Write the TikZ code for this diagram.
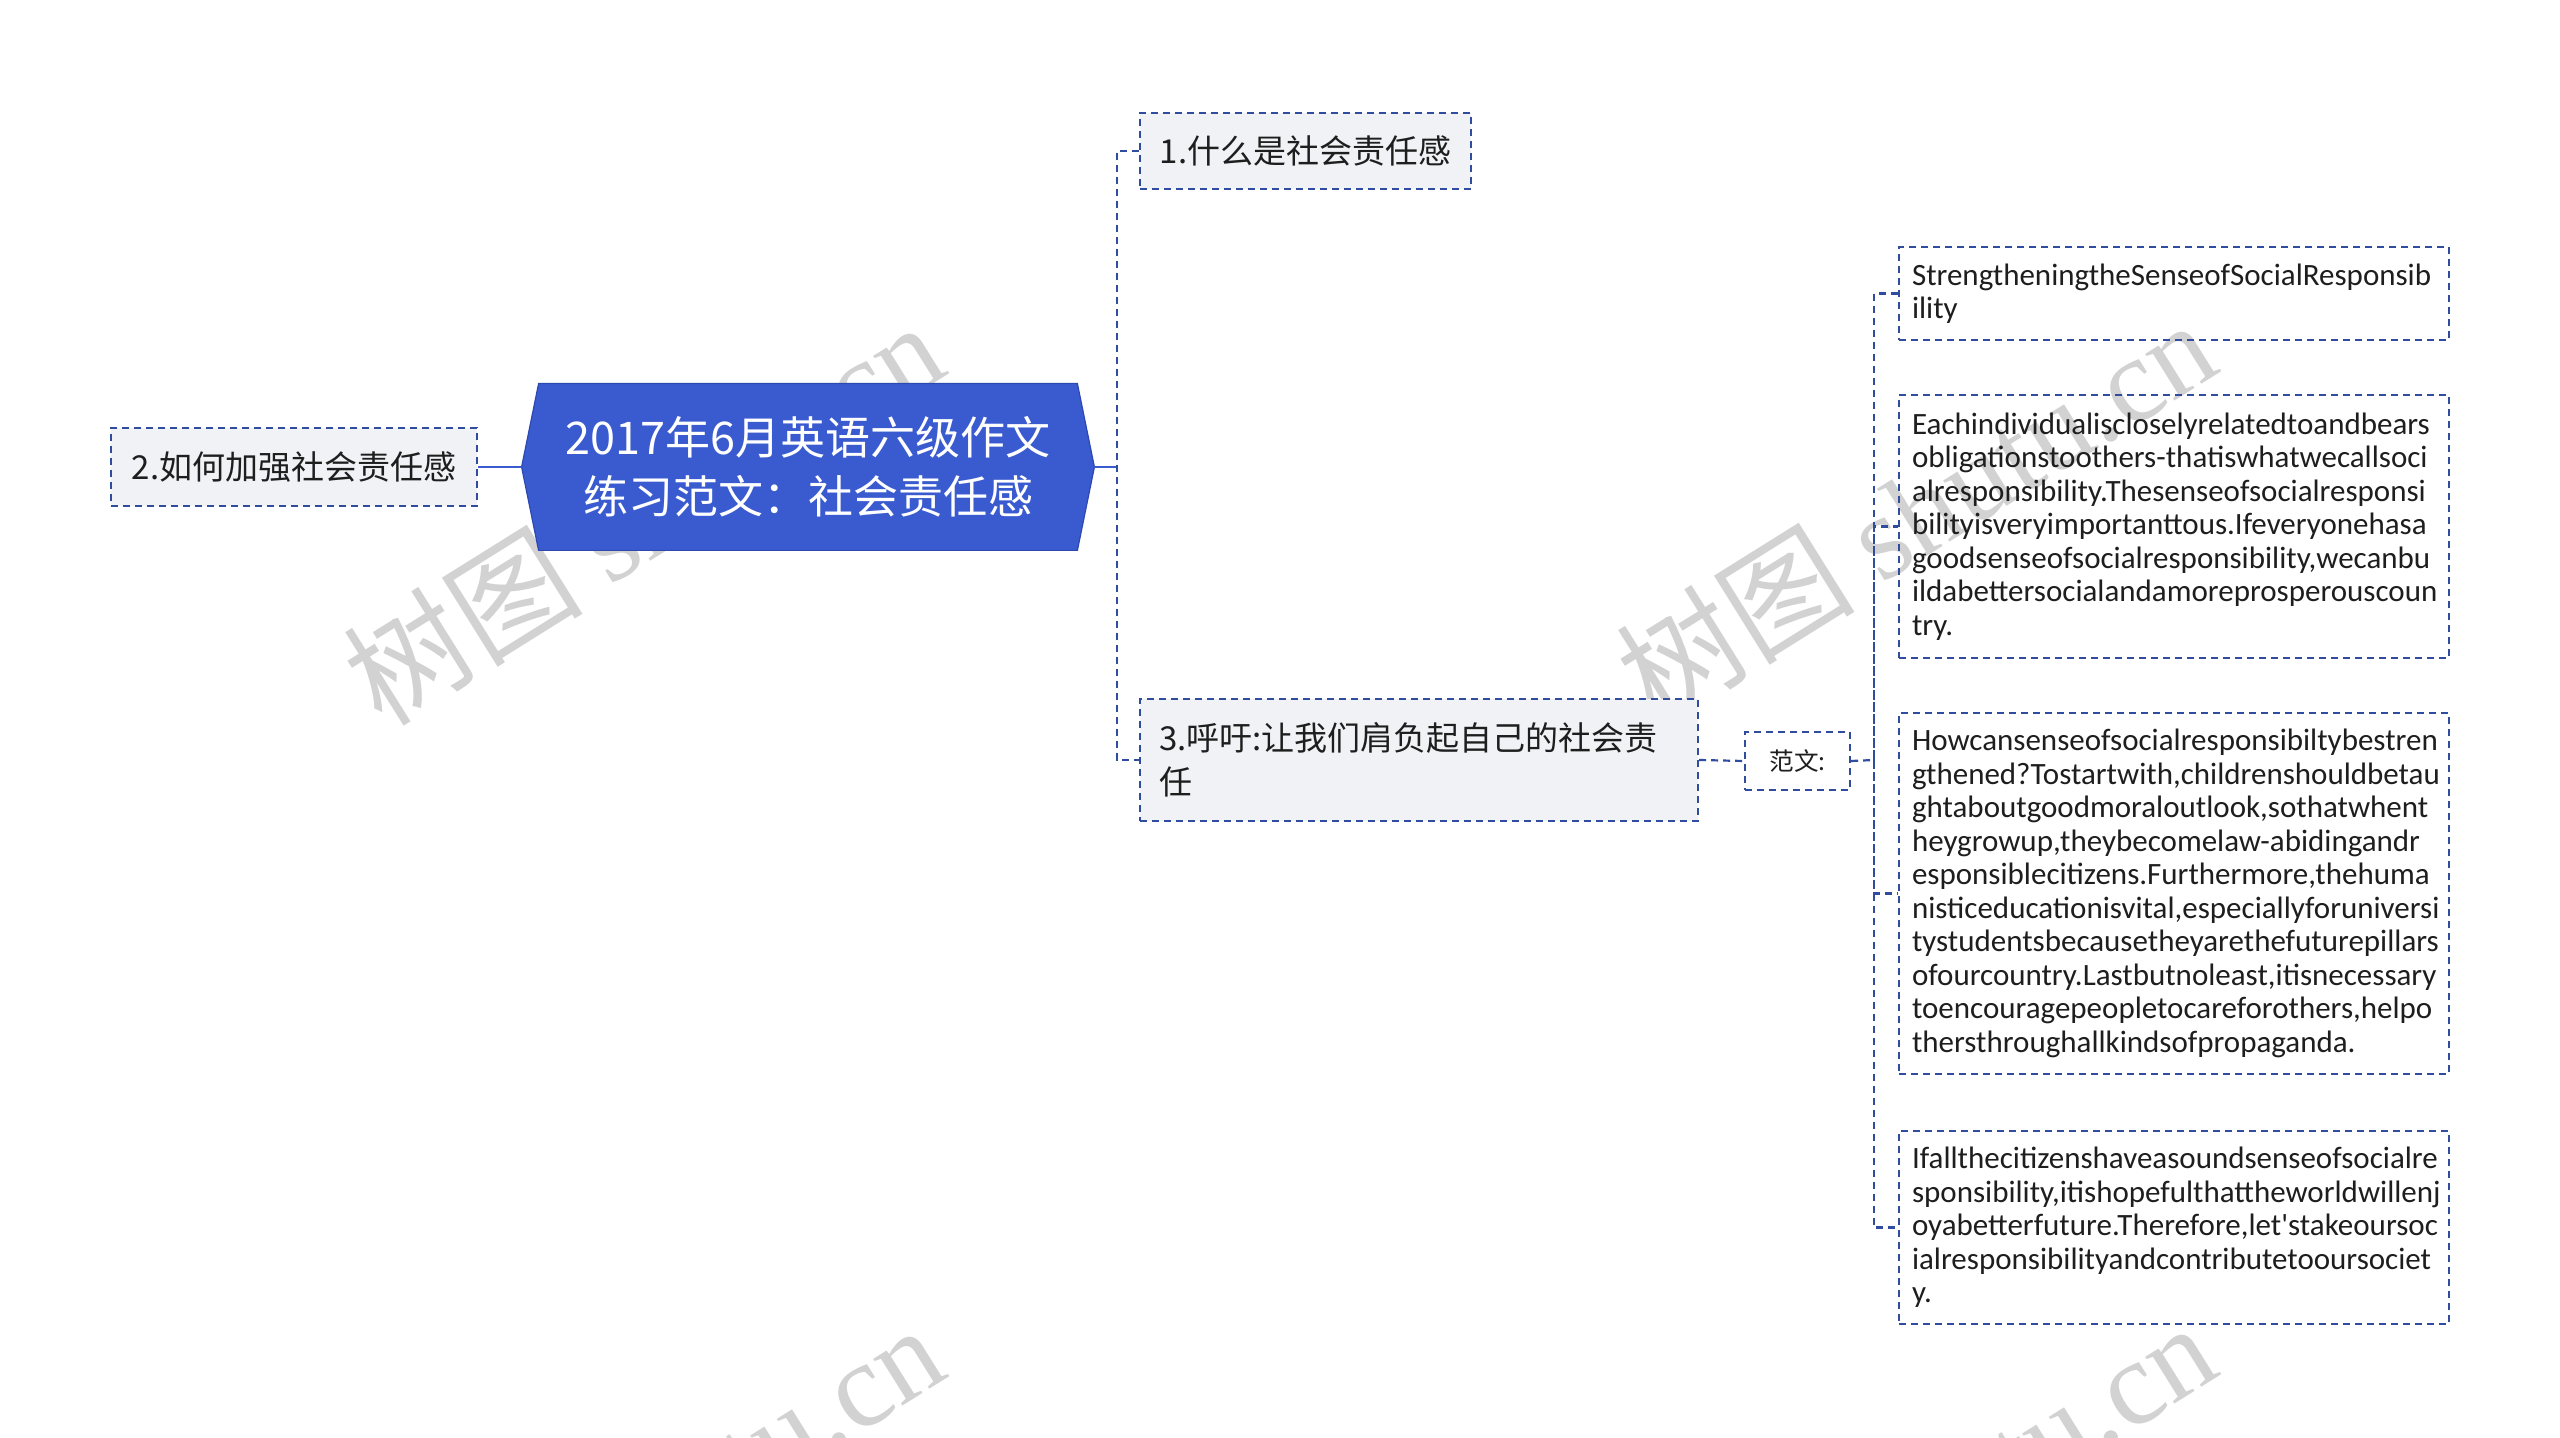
\documentclass[tikz,border=0pt]{standalone}
\usepackage{fontspec}
\setmainfont{Noto Sans CJK SC}
\newfontfamily\cjk{Noto Sans CJK SC}
\newfontfamily\leaffont{Carlito}[Ligatures=TeXOff]
\newfontfamily\wmserif{Liberation Serif}
\hyphenpenalty=10000
\exhyphenpenalty=10000
\definecolor{dblue}{HTML}{2F4C9E}
\definecolor{cblue}{HTML}{3A5BD0}
\definecolor{cedge}{HTML}{2D49B0}
\definecolor{tfill}{HTML}{F0F2F6}
\definecolor{txt}{HTML}{1E1E1E}
\definecolor{wm}{HTML}{D2D2D2}
\pgfdeclarelayer{paper}
\pgfdeclarelayer{wmk}
\pgfdeclarelayer{bg}
\pgfsetlayers{paper,wmk,bg,main}
\tikzset{
  dashseven/.style={dash pattern=on 3.5pt off 2.5pt, line width=1.1pt},
  topic/.style={draw=dblue, dashseven, fill=tfill, text=txt, inner sep=0pt,
    font=\cjk\fontsize{16.5pt}{22pt}\selectfont},
  leafbox/.style={draw=dblue, dashseven, text=txt, inner xsep=6.5pt, inner ysep=0pt,
    text width=262pt, align=left, minimum height=#1,
    font=\leaffont\fontsize{15.5pt}{16.75pt}\selectfont},
  conn/.style={draw=dblue, dashseven},
  solidc/.style={draw=cblue, line width=1.2pt},
  wmark/.style={text=wm, rotate=32, inner sep=0pt, font=\fontsize{60pt}{64pt}\selectfont}
}
\begin{document}
\begin{tikzpicture}[x=0.5pt,y=-0.5pt]
\useasboundingbox (0,0) rectangle (2560,1438);
\begin{pgfonlayer}{paper}
\fill[white] (0,0) rectangle (2560,1438);
\end{pgfonlayer}

% central topic
\node (c) [minimum width=286pt, minimum height=83pt, inner sep=0pt, text=white, align=center,
  font=\cjk\fontsize{22.5pt}{29.5pt}\selectfont] at (808,467)
  {2017年6月英语六级作文\\练习范文：社会责任感};
\begin{pgfonlayer}{bg}
\fill[cblue, draw=cedge, line width=0.6pt] (c.west) -- ([xshift=8.5pt]c.north west) -- ([xshift=-8.5pt]c.north east)
  -- (c.east) -- ([xshift=-8.5pt]c.south east) -- ([xshift=8.5pt]c.south west) -- cycle;
\end{pgfonlayer}

% main topics
\node (n1) [topic, minimum width=165.5pt, minimum height=38pt] at (1305.5,151) {1.什么是社会责任感};
\node (n2) [topic, minimum width=183pt, minimum height=39pt] at (294,467) {2.如何加强社会责任感};
\node (n3) [topic, inner xsep=9.5pt, text width=260pt, align=left, minimum height=61pt] at (1419,760)
  {3.呼吁:让我们肩负起自己的社会责\\任};
\node (fw) [topic, fill=white, minimum width=52.5pt, minimum height=29pt,
  font=\cjk\fontsize{12.3pt}{15pt}\selectfont] at (1797.5,761) {范文:};

% leaves
\node (la) [leafbox=46.5pt] at (2174,293.5)
  {StrengtheningtheSenseofSocialResponsib\\ility};
\node (lb) [leafbox=131.5pt] at (2174,526.5)
  {Eachindividualiscloselyrelatedtoandbears\\
   obligationstoothers-thatiswhatwecallsoci\\
   alresponsibility.Thesenseofsocialresponsi\\
   bilityisveryimportanttous.Ifeveryonehasa\\
   goodsenseofsocialresponsibility,wecanbu\\
   ildabettersocialandamoreprosperouscoun\\
   try.};
\node (lc) [leafbox=180.5pt] at (2174,893.5)
  {Howcansenseofsocialresponsibiltybestren\\
   gthened?Tostartwith,childrenshouldbetau\\
   ghtaboutgoodmoraloutlook,sothatwhent\\
   heygrowup,theybecomelaw-abidingandr\\
   esponsiblecitizens.Furthermore,thehuma\\
   nisticeducationisvital,especiallyforuniversi\\
   tystudentsbecausetheyarethefuturepillars\\
   ofourcountry.Lastbutnoleast,itisnecessary\\
   toencouragepeopletocareforothers,helpo\\
   thersthroughallkindsofpropaganda.};
\node (ld) [leafbox=96.5pt] at (2174,1227.5)
  {Ifallthecitizenshaveasoundsenseofsocialre\\
   sponsibility,itishopefulthattheworldwillenj\\
   oyabetterfuture.Therefore,let'stakeoursoc\\
   ialresponsibilityandcontributetooursociet\\
   y.};

% junctions
\coordinate (j1) at (1117,467);
\coordinate (j2) at (1874,760);

% connectors
\draw[solidc] (c.west) -- (n2.east);
\draw[solidc] (c.east) -- (j1);
\draw[conn] (n1.west) -| (j1) |- (n3.west);
\draw[conn] (n3.east) -- (fw.west);
\draw[conn] (fw.east) -- (j2);
\draw[conn] (la.west) -| (j2) |- (ld.west);
\draw[conn] (j2) |- (lb.west);
\draw[conn] (j2) |- (lc.west);

% watermark
\begin{pgfonlayer}{wmk}
\node (w1) [wmark] at (643,512) {{\cjk 树图} {\wmserif shutu.cn}};
\node (w2) [wmark] at (1915,510) {{\cjk 树图} {\wmserif shutu.cn}};
\node (w3) [wmark] at (643,1515) {{\cjk 树图} {\wmserif shutu.cn}};
\node (w4) [wmark] at (1915,1513) {{\cjk 树图} {\wmserif shutu.cn}};
\end{pgfonlayer}
\end{tikzpicture}
\end{document}
